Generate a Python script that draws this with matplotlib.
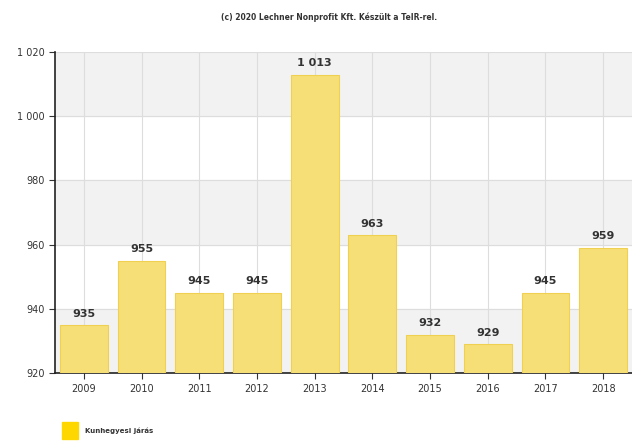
import matplotlib
matplotlib.use("Agg")
import matplotlib.pyplot as plt
from matplotlib.patches import Rectangle

years = ["2009", "2010", "2011", "2012", "2013", "2014", "2015", "2016", "2017", "2018"]
values = [935, 955, 945, 945, 1013, 963, 932, 929, 945, 959]
y_ticks = [920, 940, 960, 980, 1000, 1020]
y_labels = ["920", "940", "960", "980", "1 000", "1 020"]

fig = plt.figure(figsize=(6.32, 4.41), dpi=100)
ax = fig.add_axes([0.087, 0.154, 0.913, 0.728])

# alternating background bands
for i, (lo, hi) in enumerate(zip(y_ticks[:-1], y_ticks[1:])):
    if i % 2 == 0:
        ax.axhspan(lo, hi, color="#f2f2f2", zorder=0)

x = range(len(years))
ax.bar(x, values, width=0.83, bottom=0, color="#f7df78", edgecolor="#efd050",
       linewidth=0.8, zorder=3)

for xi, v in zip(x, values):
    label = f"{v:,}".replace(",", " ")
    ax.text(xi, v + 2, label, ha="center", va="bottom", fontsize=8,
            fontweight="bold", color="#333333", zorder=4)

ax.set_xlim(-0.5, 9.5)
ax.set_ylim(920, 1020)
ax.set_yticks(y_ticks)
ax.set_yticklabels(y_labels)
ax.set_xticks(list(x))
ax.set_xticklabels(years)
ax.tick_params(axis="both", labelsize=7, colors="#333333", length=4, width=0.8)
ax.grid(True, color="#dddddd", linewidth=0.8, zorder=1)
ax.set_axisbelow(True)
for side in ["top", "right"]:
    ax.spines[side].set_visible(False)
ax.spines["left"].set_color("#222222")
ax.spines["bottom"].set_color("#222222")
ax.spines["left"].set_linewidth(1.2)
ax.spines["bottom"].set_linewidth(1.2)

fig.text(0.52, 0.962, "(c) 2020 Lechner Nonprofit Kft. Készült a TeIR-rel.",
         ha="center", va="center", fontsize=5.5, fontweight="bold", color="#333333")

fig.patches.append(Rectangle((62 / 632, 1 - 439 / 441), 16 / 632, 17 / 441,
                             transform=fig.transFigure, color="#ffd700"))
fig.text(85 / 632, 1 - 431 / 441, "Kunhegyesi járás", ha="left", va="center",
         fontsize=5, fontweight="bold", color="#333333")

fig.savefig("out.png", dpi=100)
